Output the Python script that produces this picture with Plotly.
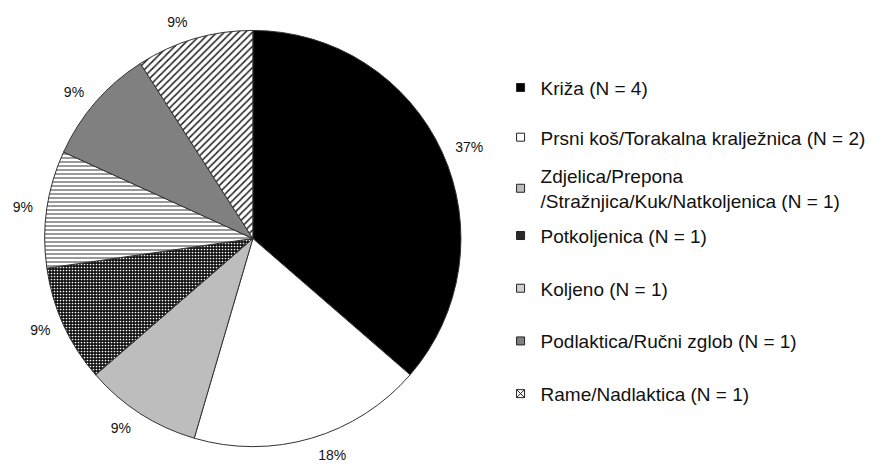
import plotly.graph_objects as go

# body regions, counts and the printed percentages
regions = [
    "Križa (N = 4)",
    "Prsni koš/Torakalna kralježnica (N = 2)",
    "Zdjelica/Prepona<br>/Stražnjica/Kuk/Natkoljenica (N = 1)",
    "Potkoljenica (N = 1)",
    "Koljeno (N = 1)",
    "Podlaktica/Ručni zglob (N = 1)",
    "Rame/Nadlaktica (N = 1)",
]
counts = [4, 2, 1, 1, 1, 1, 1]
pct_labels = ["37%", "18%", "9%", "9%", "9%", "9%", "9%"]

slice_colors = ["#000000", "#ffffff", "#bdbdbd", "#1a1a1a", "#ffffff", "#808080", "#ffffff"]
pat_shapes = ["", "", "", ".", "-", "", "/"]
pat_fg = ["#000000", "#ffffff", "#bdbdbd", "#ffffff", "#6e6e6e", "#808080", "#222222"]
pat_bg = ["#000000", "#ffffff", "#bdbdbd", "#111111", "#ffffff", "#808080", "#ffffff"]

legend_colors = ["#000000", "#ffffff", "#bdbdbd", "#2a2a2a", "#d0d0d0", "#808080", "#ffffff"]
legend_symbols = ["square", "square", "square", "square", "square", "square", "square-x"]
legend_ids = ["legend", "legend", "legend2", "legend3", "legend3", "legend3", "legend3"]

FONT = "Liberation Sans, Arial, sans-serif"
W, H = 883, 468
cx, cy, R = 250, 238, 210   # pie centre / radius in px (cy from top)
shift_x, shift_y = -11, 9   # correction measured from render


def dom(cx, cy, r):
    x0 = (cx - r + shift_x) / W
    x1 = (cx + r + shift_x) / W
    y0 = (H - cy - r + shift_y) / H
    y1 = (H - cy + r + shift_y) / H
    return dict(x=[x0, x1], y=[y0, y1])


fig = go.Figure()
fig.add_trace(go.Pie(
    labels=regions, values=counts, textinfo="none", sort=False,
    direction="clockwise", rotation=0, showlegend=False,
    marker=dict(colors=slice_colors, line=dict(color="#333", width=1),
                pattern=dict(shape=pat_shapes, fgcolor=pat_fg, bgcolor=pat_bg,
                             size=[4, 4, 4, 3, 4, 4, 5],
                             solidity=[0.3, 0.3, 0.3, 0.25, 0.35, 0.3, 0.3],
                             fillmode="replace")),
    domain=dom(cx, cy, R),
    hoverinfo="label+value",
))
# transparent, slightly larger copy that only carries the outside % labels
fig.add_trace(go.Pie(
    labels=regions, values=counts, text=pct_labels,
    textinfo="text", textposition="outside", sort=False,
    direction="clockwise", rotation=0, showlegend=False,
    textfont=dict(family=FONT, size=14, color="#111"),
    marker=dict(colors=["rgba(0,0,0,0)"] * len(counts), line=dict(width=0)),
    domain=dom(cx, cy, R + 10), hoverinfo="skip",
))

# legend entries drawn with dummy traces so they can be spaced like the original
for i, (name, clr, sym, lg) in enumerate(zip(regions, legend_colors, legend_symbols, legend_ids)):
    fig.add_trace(go.Scatter(
        x=[None], y=[None], mode="markers", name=name, legendgroup=f"g{i}", legend=lg,
        marker=dict(symbol=sym, size=8, color=clr, line=dict(color="#222", width=1)),
    ))

leg = dict(x=489 / W, xanchor="left", yanchor="top",
           font=dict(family=FONT, size=19, color="#111"), bgcolor="rgba(0,0,0,0)")

fig.update_layout(
    width=W, height=H,
    margin=dict(l=0, r=0, t=0, b=0),
    paper_bgcolor="white", plot_bgcolor="white",
    font=dict(family=FONT, color="#111"),
    xaxis=dict(visible=False), yaxis=dict(visible=False),
    legend=dict(leg, y=1 - 58 / H, tracegroupgap=22),
    legend2=dict(leg, y=1 - 147 / H),
    legend3=dict(leg, y=1 - 207 / H, tracegroupgap=25),
)
fig.write_html("out.html")
